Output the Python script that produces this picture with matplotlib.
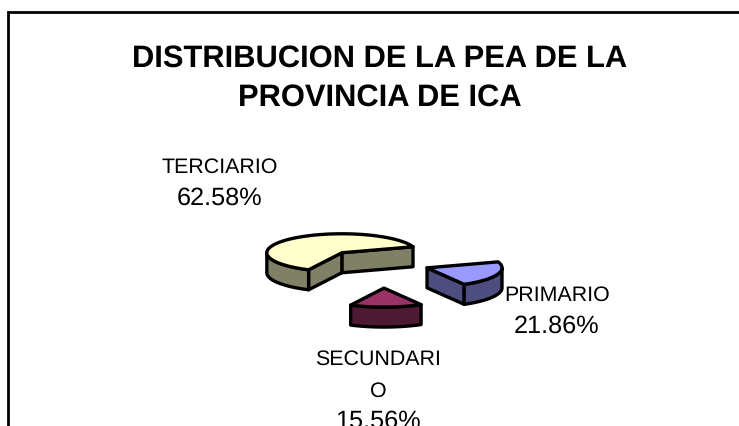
import matplotlib
matplotlib.use('Agg')
import matplotlib.pyplot as plt
import numpy as np

plt.rcParams['font.family'] = ['Liberation Sans', 'DejaVu Sans']
plt.rcParams['text.hinting'] = 'no_hinting'

sectors = ['PRIMARIO', 'SECUNDARIO', 'TERCIARIO']
shares = [21.86, 15.56, 62.58]
share_labels = ['21.86%', '15.56%', '62.58%']

top_colors = {'TERCIARIO': '#FFFFCC', 'SECUNDARIO': '#993366', 'PRIMARIO': '#9999FF'}
side_colors = {'TERCIARIO': '#808066', 'SECUNDARIO': '#4D1A33', 'PRIMARIO': '#4D4D80'}

# pie geometry, in pixels of the figure
cx, cy = 377, 263
rx, ry = 75, 19
depth = 20
explode = {'TERCIARIO': 0.714, 'SECUNDARIO': 1.32, 'PRIMARIO': 0.714}
nudge = {'TERCIARIO': 0, 'SECUNDARIO': 4, 'PRIMARIO': 0}
lw = 2.4

fig = plt.figure(figsize=(7.39, 4.26), dpi=100)
ax = fig.add_axes([0, 0, 1, 1])
ax.set_xlim(0, 739)
ax.set_ylim(426, 0)
ax.axis('off')


def xy(x0, y0, t):
    return x0 + rx*np.cos(t), y0 - ry*np.sin(t)


def face(xs, ys, color, z):
    ax.fill(xs, ys, facecolor=color, edgecolor='black', lw=lw, joinstyle='round', zorder=z)


def label(x, y, s, size, **kw):
    ax.text(x, y, s, ha='center', va='baseline', fontsize=size, **kw)


# slices run counter clockwise from this angle
start = 18.4
spans = dict(zip(sectors, shares))
z = 2
for name in ['TERCIARIO', 'SECUNDARIO', 'PRIMARIO']:
    sweep = spans[name]/100*360
    t0, t1 = np.radians(start), np.radians(start+sweep)
    mid = (t0+t1)/2
    x0 = cx + explode[name]*rx*np.cos(mid) + nudge[name]
    y0 = cy - explode[name]*ry*np.sin(mid)

    # cut faces, only those turned towards the viewer
    if np.cos(t0) > 0:
        ex, ey = xy(x0, y0, t0)
        face([x0, ex, ex, x0], [y0, ey, ey+depth, y0+depth], side_colors[name], z)
    if np.cos(t1) < 0:
        ex, ey = xy(x0, y0, t1)
        face([x0, ex, ex, x0], [y0, ey, ey+depth, y0+depth], side_colors[name], z)

    # outer wall, front half of the ellipse
    t = np.linspace(t0, t1, 200)
    front = t[np.sin(t) < 0]
    if len(front):
        wx, wy = xy(x0, y0, front)
        face(np.r_[wx, wx[::-1]], np.r_[wy, wy[::-1]+depth], side_colors[name], z)

    # top
    ax_, ay_ = xy(x0, y0, t)
    face(np.r_[x0, ax_], np.r_[y0, ay_], top_colors[name], z+1)
    start += sweep
    z += 2

# frame, cut off by the picture on the right and below
ax.plot([8, 8, 739], [426, 12, 12], color='black', lw=2.0, solid_joinstyle='miter', clip_on=False)

label(380, 67, 'DISTRIBUCION DE LA PEA DE LA', 22.2, fontweight='bold')
label(380, 106, 'PROVINCIA DE ICA', 22.2, fontweight='bold')

name_fs = 15.4
pct_fs = 18.2
label(220, 173, 'TERCIARIO', name_fs)
label(220, 205, share_labels[2], pct_fs)
label(557, 301, 'PRIMARIO', name_fs)
label(557, 333, share_labels[0], pct_fs)
label(378, 365, 'SECUNDARI', name_fs)
label(378, 397, 'O', name_fs)
# the last line runs off the bottom of the picture, as in the reference
label(378, 428, share_labels[1], pct_fs)

fig.savefig('out.png', dpi=100)
